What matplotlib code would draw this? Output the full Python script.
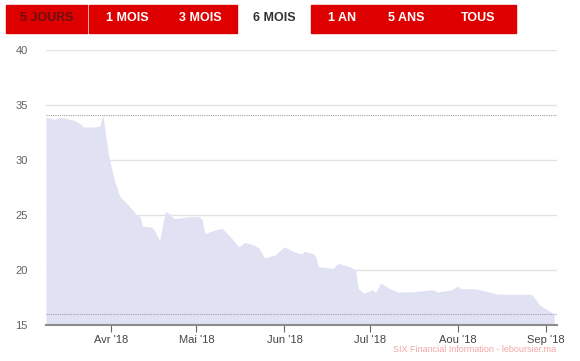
import matplotlib.pyplot as plt
import numpy as np

plt.rcParams['font.family'] = ['Liberation Sans', 'DejaVu Sans']

# cours sur 6 mois
dates = ["2018-03-09", "2018-03-12", "2018-03-14", "2018-03-16", "2018-03-19",
         "2018-03-21", "2018-03-22", "2018-03-26", "2018-03-28", "2018-03-29",
         "2018-03-31", "2018-04-02", "2018-04-04", "2018-04-07", "2018-04-10",
         "2018-04-11", "2018-04-12", "2018-04-15", "2018-04-16", "2018-04-18",
         "2018-04-20", "2018-04-21", "2018-04-23", "2018-04-25", "2018-04-28",
         "2018-05-02", "2018-05-03", "2018-05-04", "2018-05-07", "2018-05-10",
         "2018-05-13", "2018-05-16", "2018-05-18", "2018-05-21", "2018-05-23",
         "2018-05-25", "2018-05-29", "2018-05-30", "2018-06-01", "2018-06-04",
         "2018-06-07", "2018-06-08", "2018-06-11", "2018-06-12", "2018-06-13",
         "2018-06-18", "2018-06-20", "2018-06-24", "2018-06-26", "2018-06-27",
         "2018-06-29", "2018-07-02", "2018-07-03", "2018-07-05", "2018-07-08",
         "2018-07-11", "2018-07-16", "2018-07-19", "2018-07-23", "2018-07-25",
         "2018-07-30", "2018-08-01", "2018-08-02", "2018-08-07", "2018-08-12",
         "2018-08-15", "2018-08-27", "2018-08-30", "2018-09-04"]
prices = [33.9, 33.7, 33.9, 33.8, 33.6,
          33.3, 33.0, 33.0, 33.1, 34.1,
          30.5, 28.2, 26.7, 25.9, 25.0,
          24.9, 24.0, 23.9, 23.7, 22.7,
          25.3, 25.2, 24.7, 24.7, 24.85,
          24.85, 24.6, 23.3, 23.6, 23.8,
          23.0, 22.1, 22.5, 22.3, 22.0,
          21.1, 21.4, 21.7, 22.1, 21.7,
          21.45, 21.7, 21.5, 21.2, 20.3,
          20.15, 20.6, 20.3, 20.0, 18.3,
          17.9, 18.2, 17.95, 18.8, 18.3,
          18.0, 18.0, 18.1, 18.2, 18.0,
          18.2, 18.55, 18.3, 18.3, 18.0,
          17.8, 17.8, 16.8, 16.0]

month_ticks = ["2018-04-01", "2018-05-01", "2018-06-01", "2018-07-01", "2018-08-01", "2018-09-01"]
month_labels = ["Avr '18", "Mai '18", "Jun '18", "Jul '18", "Aou '18", "Sep '18"]

buttons = ["5 JOURS", "1 MOIS", "3 MOIS", "6 MOIS", "1 AN", "5 ANS", "TOUS"]

x = np.array(dates, dtype="datetime64[D]")
y = np.array(prices)

fig = plt.figure(figsize=(5.8, 3.61), dpi=100)
ax = fig.add_axes([46 / 580, 36 / 361, 511 / 580, 275 / 361])

ax.fill_between(x, y, 15, color="#e1e1f4", linewidth=0)
ax.axhline(y.max(), color="#a0a0a0", lw=0.8, ls=(0, (1, 1)))
ax.axhline(y.min(), color="#a0a0a0", lw=0.8, ls=(0, (1, 1)))

ax.set_ylim(15, 40)
ax.set_yticks([15, 20, 25, 30, 35, 40])
ax.set_xlim(np.datetime64("2018-03-09"), np.datetime64("2018-09-05"))
ax.set_xticks(np.array(month_ticks, dtype="datetime64[D]"))
ax.set_xticklabels(month_labels)

ax.grid(axis="y", color="#e2e2e2", lw=1)
ax.set_axisbelow(True)
for s in ["top", "right", "left"]:
    ax.spines[s].set_visible(False)
ax.spines["bottom"].set_color("#8c8c8c")
ax.spines["bottom"].set_linewidth(1.5)
ax.tick_params(axis="y", length=0, pad=13, labelsize=8, labelcolor="#606060")
ax.tick_params(axis="x", length=5, color="#666666", pad=2, labelsize=8, labelcolor="#444444")

# barre de boutons en haut
def px(xp, yp):
    return xp / 580, 1 - yp / 361

red = "#de0000"
for x0, x1 in [(6, 87), (89, 237), (311, 516)]:
    fx, fy = px(x0, 33)
    fig.patches.append(plt.Rectangle((fx, fy), (x1 - x0) / 580, 28 / 361,
                                     transform=fig.transFigure, color=red, zorder=0))
centers = [47, 127, 200, 274, 342, 406, 478]
for label, cx in zip(buttons, centers):
    color = "white"
    if label == "5 JOURS":
        color = "#6a1010"
    elif label == "6 MOIS":
        color = "#333333"
    fx, fy = px(cx, 18)
    fig.text(fx, fy, label, ha="center", va="center", fontsize=9,
             fontweight="bold", color=color)

fx, fy = px(556, 349)
fig.text(fx, fy, "SIX Financial Information - leboursier.ma", ha="right", va="center",
         fontsize=6.5, color="#f2a6a6")

fig.savefig("out.png", dpi=100)
